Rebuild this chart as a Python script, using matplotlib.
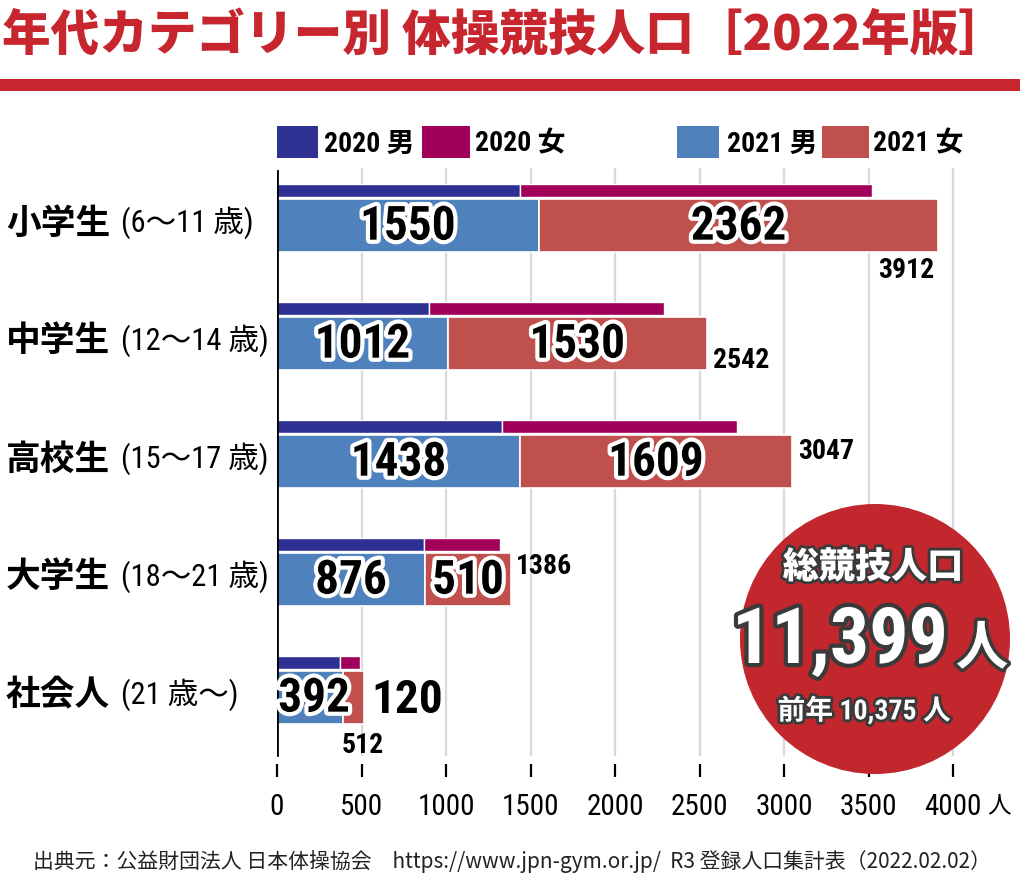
import numpy as np
import matplotlib
matplotlib.use("Agg")
import matplotlib.pyplot as plt
import matplotlib.patheffects as pe
from matplotlib import font_manager as fm
from matplotlib import transforms
from matplotlib.patches import Rectangle, Ellipse

# ---------------- data ----------------
categories = ["小学生", "中学生", "高校生", "大学生", "社会人"]
age_ranges = ["(6～11 歳)", "(12～14 歳)", "(15～17 歳)", "(18～21 歳)", "(21 歳～)"]
male_2020 = [1440, 900, 1330, 870, 370]
female_2020 = [2080, 1390, 1390, 450, 120]
male_2021 = [1550, 1012, 1438, 876, 392]
female_2021 = [2362, 1530, 1609, 510, 120]
x_ticks = [0, 500, 1000, 1500, 2000, 2500, 3000, 3500, 4000]
legend_labels = ["2020 男", "2020 女", "2021 男", "2021 女"]
total_label = "11,399"
prev_label = "前年 10,375 人"
title = "年代カテゴリー別 体操競技人口［2022年版］"
source = "出典元：公益財団法人 日本体操協会　https://www.jpn-gym.or.jp/  R3 登録人口集計表（2022.02.02）"

# ---------------- fonts ----------------
names = {f.name for f in fm.fontManager.ttflist}
NARROW = "Liberation Sans"
for cand in ["Liberation Sans Narrow", "Roboto Condensed", "DejaVu Sans Condensed", "Open Sans Condensed"]:
    if cand in names:
        NARROW = cand
        break
JP = "Noto Sans CJK JP"
plt.rcParams["font.family"] = [JP, "DejaVu Sans"]
NUMFAM = [NARROW, JP, "DejaVu Sans"]

# ---------------- colours ----------------
C20M = "#2e3192"
C20F = "#a0005a"
C21M = "#4f81bd"
C21F = "#c0504d"
RED = "#c8262f"

W, H = 1024, 879
fig = plt.figure(figsize=(W / 100, H / 100), dpi=100)
fig.patch.set_facecolor("white")

def fx(px):
    return px / W

def fy(py):
    return 1 - py / H

# title and rule
fig.text(fx(2), fy(35), title, color=RED, fontsize=35, fontweight="heavy",
         ha="left", va="center", family=[JP, "DejaVu Sans"])
fig.patches.append(Rectangle((0, fy(92)), fx(1020), 12 / H, transform=fig.transFigure,
                             facecolor=RED, edgecolor="none"))

# axes
ax_top, ax_bot = 170, 778
ax = fig.add_axes([fx(277), fy(ax_bot), fx(953) - fx(277), (ax_bot - ax_top) / H])
ax.set_xlim(0, 4000)
px_per_unit = 118.0
c0 = 226.5
ax.set_ylim((ax_bot - c0) / px_per_unit, (ax_top - c0) / px_per_unit)
for s in ax.spines.values():
    s.set_visible(False)
ax.set_yticks([])
ax.set_xticks(x_ticks)
ax.set_xticklabels([str(t) for t in x_ticks], fontsize=21, family=NUMFAM)
ax.tick_params(axis="x", direction="in", length=9.5, width=1.6, pad=11, color="black")

grid_lo = (ax_bot - 756) / (ax_bot - ax_top)
for t in x_ticks[1:]:
    ax.axvline(t, ymin=grid_lo, ymax=1, color="#d9d9d9", lw=1.6, zorder=0, clip_on=False)
ax.axvline(0, ymin=grid_lo, ymax=1 - 2 / (ax_bot - ax_top), color="black", lw=2, zorder=5)

y = np.arange(len(categories))
off20 = -35.5 / px_per_unit
h20 = 13 / px_per_unit
h21 = 53 / px_per_unit
m20 = np.array(male_2020); f20 = np.array(female_2020)
m21 = np.array(male_2021); f21 = np.array(female_2021)
ax.barh(y + off20, m20, height=h20, color=C20M, edgecolor="white", linewidth=1, zorder=2)
ax.barh(y + off20, f20, left=m20, height=h20, color=C20F, edgecolor="white", linewidth=1, zorder=2)
ax.barh(y, m21, height=h21, color=C21M, edgecolor="white", linewidth=1.2, zorder=2)
ax.barh(y, f21, left=m21, height=h21, color=C21F, edgecolor="white", linewidth=1.2, zorder=2)

stroke = [pe.withStroke(linewidth=6, foreground="white")]
u = 1 / 0.169  # data units per pixel
INS = 34
for i in range(len(categories)):
    ax.text(m21[i] / 2 + (4 * u if i == 4 else 0), y[i] + 0.01, str(m21[i]), fontsize=INS,
            fontweight="bold", family=NUMFAM, ha="center", va="center",
            color="black", path_effects=stroke, zorder=6)
    if i == 4:
        ax.text(m21[i] + f21[i] + 8 * u, y[i] + 0.01, str(f21[i]), fontsize=INS,
                fontweight="bold", family=NUMFAM, ha="left", va="center",
                color="black", zorder=6)
    else:
        ax.text(m21[i] + f21[i] / 2, y[i] + 0.01, str(f21[i]), fontsize=INS,
                fontweight="bold", family=NUMFAM, ha="center", va="center",
                color="black", path_effects=stroke, zorder=6)

# totals
tot = m21 + f21
tot_layout = [  # (dx px, dy px, ha)
    (-4, 44, "right"),
    (6, 16, "left"),
    (6, -11, "left"),
    (5, -14, "left"),
    (-1, 47, "center"),
]
for i, (dx, dy, ha) in enumerate(tot_layout):
    ax.text(tot[i] + dx * u, y[i] + dy / px_per_unit, str(tot[i]), fontsize=20,
            fontweight="bold", family=NUMFAM, ha=ha, va="center", color="black", zorder=6)

# category labels
blend = transforms.blended_transform_factory(fig.transFigure, ax.transData)
for i, (c, a) in enumerate(zip(categories, age_ranges)):
    ax.text(fx(6), y[i] - 0.03, c, transform=blend, fontsize=25, fontweight="bold",
            ha="left", va="center", family=[JP, "DejaVu Sans"], color="black")
    ax.text(fx(121), y[i] - 0.03, a, transform=blend, fontsize=22,
            ha="left", va="center", family=NUMFAM, color="black")

# unit label next to the last tick
fig.text(fx(987), fy(806), "人", fontsize=17, ha="left", va="center", family=[JP])

# legend
leg_boxes = [(277, 318, C20M), (422, 470, C20F), (677, 719, C21M), (822, 869, C21F)]
leg_text_x = [324, 475, 727, 873]
for (x0, x1, col), tx, lab in zip(leg_boxes, leg_text_x, legend_labels):
    fig.patches.append(Rectangle((fx(x0), fy(159)), fx(x1) - fx(x0), 32 / H,
                                 transform=fig.transFigure, facecolor=col, edgecolor="none"))
    fig.text(fx(tx), fy(144), lab, fontsize=20, fontweight="bold", family=NUMFAM,
             ha="left", va="center", color="black")

# circle
fig.patches.append(Ellipse((fx(875), fy(640)), 270 / W, 270 / H, transform=fig.transFigure,
                           facecolor="#c1272d", edgecolor="none", zorder=3))
dark = [pe.withStroke(linewidth=4, foreground="#3a3a3a")]
fig.text(fx(873), fy(568), "総競技人口", fontsize=26, fontweight="heavy", color="white",
         ha="center", va="center", family=[JP], path_effects=dark, zorder=4)
fig.text(fx(840), fy(643), total_label, fontsize=56, fontweight="bold", color="white",
         ha="center", va="center", family=NUMFAM, path_effects=[pe.withStroke(linewidth=6, foreground="#3a3a3a")], zorder=4)
fig.text(fx(982), fy(650), "人", fontsize=38, fontweight="bold", color="white",
         ha="center", va="center", family=[JP], path_effects=[pe.withStroke(linewidth=5, foreground="#3a3a3a")], zorder=4)
fig.text(fx(864), fy(712), prev_label, fontsize=20, fontweight="bold", color="white",
         ha="center", va="center", family=NUMFAM, path_effects=dark, zorder=4)

# source
fig.text(fx(512), fy(861), source, fontsize=15, color="#222222", ha="center", va="center",
         family=[JP, "DejaVu Sans"])

fig.savefig("out.png", dpi=100, facecolor="white")
